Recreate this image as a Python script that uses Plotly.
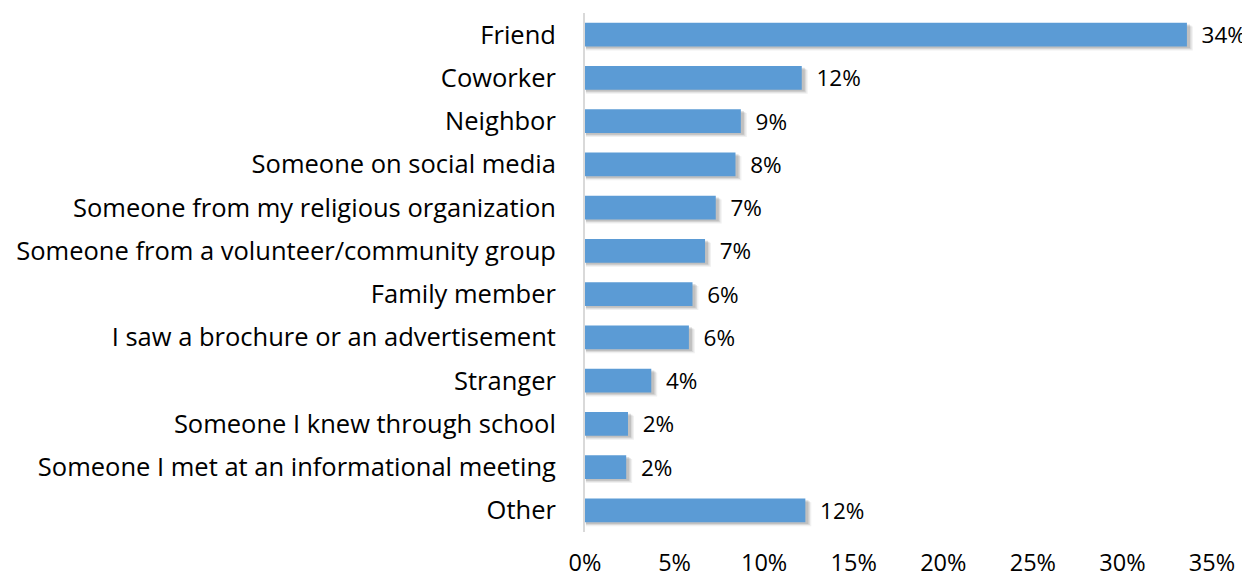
import plotly.graph_objects as go

categories = [
    "Friend", "Coworker", "Neighbor", "Someone on social media",
    "Someone from my religious organization", "Someone from a volunteer/community group",
    "Family member", "I saw a brochure or an advertisement", "Stranger",
    "Someone I knew through school", "Someone I met at an informational meeting", "Other",
]
values = [33.6, 12.1, 8.7, 8.4, 7.3, 6.7, 6.0, 5.8, 3.7, 2.4, 2.3, 12.3]
tick_vals = [0, 5, 10, 15, 20, 25, 30, 35]
tick_text = ["0%", "5%", "10%", "15%", "20%", "25%", "30%", "35%"]

BAR_W = 0.55
FONT = "Open Sans, sans-serif"

fig = go.Figure()
# soft shadow
for dx, dy, a in [(0.28, 0.09, 0.08), (0.2, 0.065, 0.12), (0.12, 0.04, 0.16)]:
    fig.add_trace(go.Bar(
        y=categories, x=[v + dx for v in values], base=0.05, orientation="h",
        width=BAR_W, offset=-BAR_W / 2 + dy,
        marker=dict(color=f"rgba(60,60,60,{a})", line=dict(width=0)),
        hoverinfo="skip", showlegend=False,
    ))
fig.add_trace(go.Bar(
    y=categories, x=values, orientation="h",
    width=BAR_W, offset=-BAR_W / 2,
    marker=dict(color="#5B9BD5", line=dict(width=0)),
    texttemplate="\u00a0\u00a0%{x:.0f}%", textposition="outside", constraintext="none",
    textfont=dict(size=22.5, color="#000000", family=FONT),
    cliponaxis=False, showlegend=False,
))

fig.update_layout(
    width=1242, height=572,
    margin=dict(l=577, r=38, t=5, b=48, autoexpand=False),
    barmode="overlay",
    plot_bgcolor="white", paper_bgcolor="white",
    font=dict(family=FONT, color="#000000"),
)
fig.update_xaxes(
    range=[0, 35], tickvals=tick_vals, ticktext=tick_text, automargin=False,
    showgrid=False, zeroline=False, showline=False,
    tickfont=dict(size=23.5, family=FONT, color="#000000"), ticks="", ticklabelstandoff=14,
)
fig.update_yaxes(
    categoryorder="array", categoryarray=categories, autorange="reversed", automargin=False,
    showgrid=False, zeroline=False, showline=True, linecolor="#D9D9D9", linewidth=2,
    tickfont=dict(size=25.5, family=FONT, color="#000000"), ticks="", ticklabelstandoff=22,
)
fig.write_html("out.html")
